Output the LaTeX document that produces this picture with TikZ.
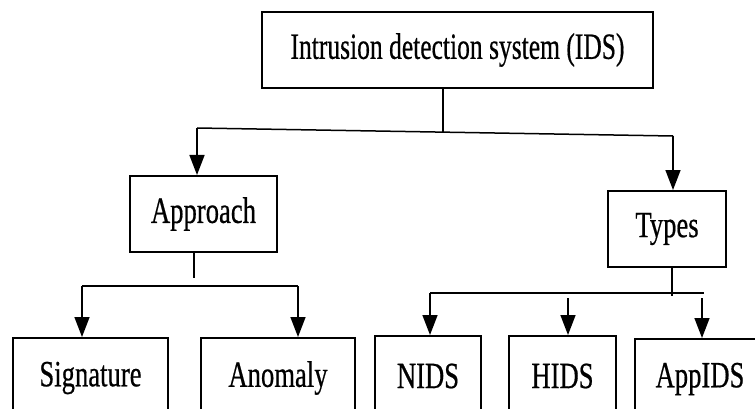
\documentclass[tikz,border=0pt]{standalone}
\usepackage{fontspec}
\setmainfont{Liberation Serif}
\newfontfamily\reffont{Liberation Serif}[FakeBold=0.6]
\usetikzlibrary{arrows.meta}
\tikzset{
  box/.style={draw=black, line width=2pt, rectangle, inner sep=0pt,
    font=\reffont\fontsize{37}{39}\selectfont},
  link/.style={draw=black, line width=1.5pt},
  arr/.style={link, -{Triangle[width=15pt,length=20pt]}},
}
\newcommand{\nx}[1]{\scalebox{0.72}[1]{#1}}
\begin{document}
\begin{tikzpicture}[x=1pt,y=-1pt]
\clip (0,0) rectangle (755,409);
\fill[white] (0,0) rectangle (755,409);
% nodes
\node[box, minimum width=391pt, minimum height=76pt] (ids) at (457.5,50) {\scalebox{0.69}[1]{Intrusion detection system (IDS)}};
\node[box, minimum width=147pt, minimum height=76pt] (appr) at (203.5,214) {\nx{Approach}};
\node[box, minimum width=118pt, minimum height=76pt] (types) at (667,229) {\nx{Types}};
\node[box, minimum width=155pt, minimum height=80pt, anchor=north] (sig) at (90.5,337) {\nx{Signature}};
\node[box, minimum width=154pt, minimum height=80pt, anchor=north] (anom) at (278,337) {\nx{Anomaly}};
\node[box, minimum width=106pt, minimum height=80pt, anchor=north] (nids) at (428,335) {\nx{NIDS}};
\node[box, minimum width=107pt, minimum height=80pt, anchor=north] (hids) at (562.5,335) {\nx{HIDS}};
\node[box, minimum width=130pt, minimum height=80pt, anchor=north] (app) at (700,338) {\nx{AppIDS}};
% coordinates
\coordinate (s0) at (443,132);
\coordinate (b1) at (197,128);
\coordinate (b2) at (673,136);
\coordinate (as) at (194,278);
\coordinate (l1) at (82,286);
\coordinate (l2) at (298,286);
\coordinate (ts) at (672,296);
\coordinate (r1) at (430,293);
\coordinate (r2) at (704,293);
\coordinate (h0) at (568,298);
\coordinate (p0) at (702,298);
% top level
\draw[link] (ids.south -| s0) -- (s0);
\draw[link] (b1) -- (b2);
\draw[arr] (b1) -- (b1 |- appr.north);
\draw[arr] (b2) -- (b2 |- types.north);
% approach branch
\draw[link] (appr.south -| as) -- (as);
\draw[link] (l1) -- (l2);
\draw[arr] (l1) -- (l1 |- sig.north);
\draw[arr] (l2) -- (l2 |- anom.north);
% types branch
\draw[link] (types.south -| ts) -- (ts);
\draw[link] (r1) -- (r2);
\draw[arr] (r1) -- (r1 |- nids.north);
\draw[arr] (h0) -- (h0 |- hids.north);
\draw[arr] (p0) -- (p0 |- app.north);
\end{tikzpicture}
\end{document}
